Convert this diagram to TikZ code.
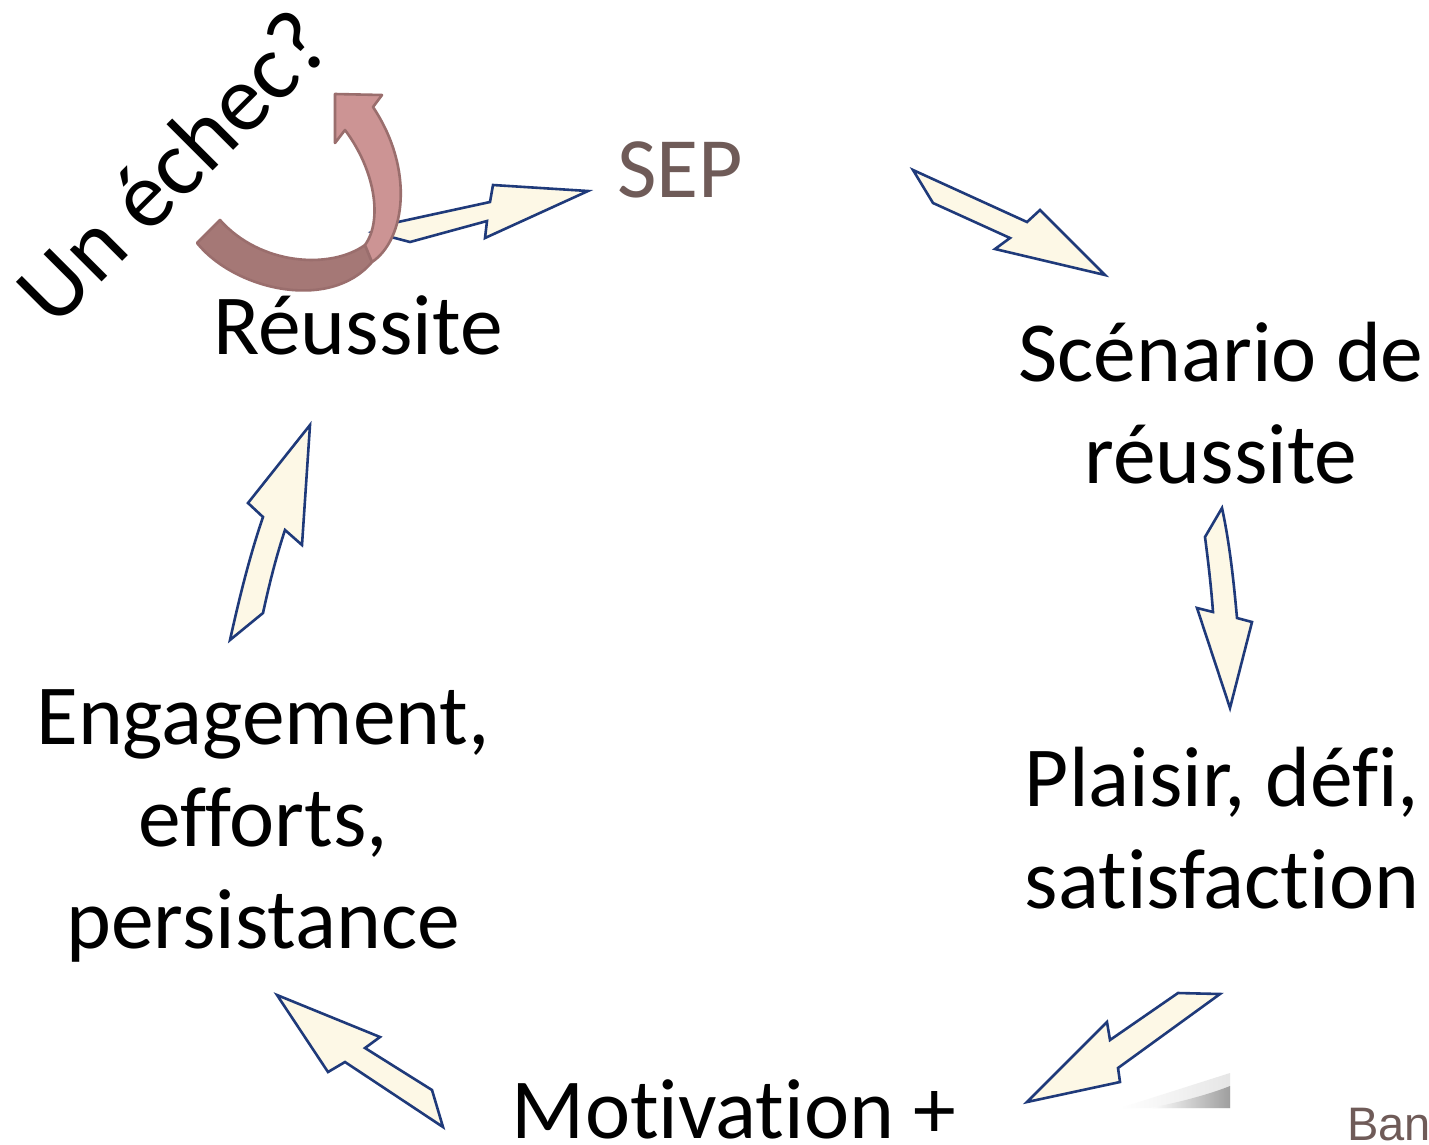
\documentclass[tikz,border=0pt]{standalone}
\usepackage{fontspec}
\setmainfont{Carlito}[Ligatures=NoCommon]
\newfontfamily\banfont{Liberation Sans}
\usetikzlibrary{shadings}
\definecolor{arrowfill}{HTML}{FDF8E6}
\definecolor{arrowline}{HTML}{1F3A7A}
\definecolor{redlight}{HTML}{CC9494}
\definecolor{reddark}{HTML}{A57876}
\definecolor{redline}{HTML}{9A6E6D}
\definecolor{sepcol}{HTML}{6F5B58}
\tikzset{
  blockarrow/.style={fill=arrowfill, draw=arrowline, line width=2.6pt, line join=miter},
  curvearrow/.style={draw=redline, line width=2.6pt, line join=round},
  txt/.style={inner sep=0pt, font=\fontsize{85.5}{102}\selectfont, text=black},
}
\begin{document}
\begin{tikzpicture}[x=1pt,y=-1pt]
\useasboundingbox (0,0) rectangle (1429,1144);
\fill[white] (0,0) rectangle (1429,1144);

% page curl shadow
\shade[left color=white, right color=black!10]
  (1120,1108) -- (1230,1073) -- (1230,1108) -- cycle;
\shade[left color=white, right color=black!38]
  (1150,1108) .. controls (1190,1100) and (1215,1092) .. (1230,1086) -- (1230,1108) -- cycle;

% text nodes
\node[txt, anchor=base] (reussite) at (358,354) {Réussite};
\node[txt, anchor=base] (scenario) at (1221,381)
  {\begin{tabular}[t]{@{}c@{}}Scénario de\\réussite\end{tabular}};
\node[txt, anchor=base] (plaisir) at (1222,806)
  {\begin{tabular}[t]{@{}c@{}}Plaisir, défi,\\satisfaction\end{tabular}};
\node[txt, anchor=base] (engagement) at (263,744)
  {\begin{tabular}[t]{@{}c@{}}Engagement,\\efforts,\\persistance\end{tabular}};
\node[txt, anchor=base] (motivation) at (734,1138) {Motivation +};
\node[inner sep=0pt, anchor=base, font=\fontsize{86}{100}\selectfont, text=sepcol] (sep) at (680,197) {SEP};
\node[inner sep=0pt, anchor=base west, font=\banfont\fontsize{47}{56}\selectfont, text=sepcol] (ban) at (1347,1140) {Ban};
\node[inner sep=0pt, rotate=45, font=\fontsize{94}{110}\selectfont, text=black] (echec) at (172,166) {Un échec?};

% block arrows
% Reussite -> SEP
\draw[blockarrow] (372,232) -- (398,222) -- (490,202) -- (493,185) -- (588,191)
  -- (485,238) -- (487,221) -- (410,242) -- cycle;
% SEP -> Scenario
\draw[blockarrow] (913,170) -- (1027,222) -- (1040,210) -- (1105,275)
  -- (995,249) -- (1010,238) -- (933,203) -- cycle;
% Scenario -> Plaisir
\draw[blockarrow] (1222,508) .. controls (1230,545) and (1234,585) .. (1237,618)
  -- (1252,622) -- (1230,708) -- (1197,608) -- (1213,612)
  .. controls (1211,585) and (1208,560) .. (1205,537) -- cycle;
% Plaisir -> Motivation
\draw[blockarrow] (1178,993) -- (1220,994) -- (1118,1068) -- (1120,1082)
  -- (1027,1102) -- (1107,1022) -- (1110,1040) -- cycle;
% Motivation -> Engagement
\draw[blockarrow] (277,995) -- (380,1037) -- (365,1048) -- (432,1090)
  -- (443,1127) -- (345,1062) -- (328,1072) -- cycle;
% Engagement -> Reussite
\draw[blockarrow] (310,425) -- (302,545) -- (285,530)
  .. controls (275,560) and (268,590) .. (263,613)
  -- (230,640) .. controls (240,595) and (250,555) .. (263,517)
  -- (248,503) -- cycle;

% curved "echec" arrow
\draw[curvearrow, fill=reddark] (197,243) .. controls (235,290) and (330,312) .. (372,262)
  -- (365,245) .. controls (330,270) and (260,265) .. (220,220) -- cycle;
\draw[curvearrow, fill=redlight] (372,262) .. controls (405,240) and (415,170) .. (373,107)
  -- (382,95) -- (335,94) -- (335,143) -- (345,130)
  .. controls (375,170) and (383,220) .. (365,245) -- cycle;
\end{tikzpicture}
\end{document}
